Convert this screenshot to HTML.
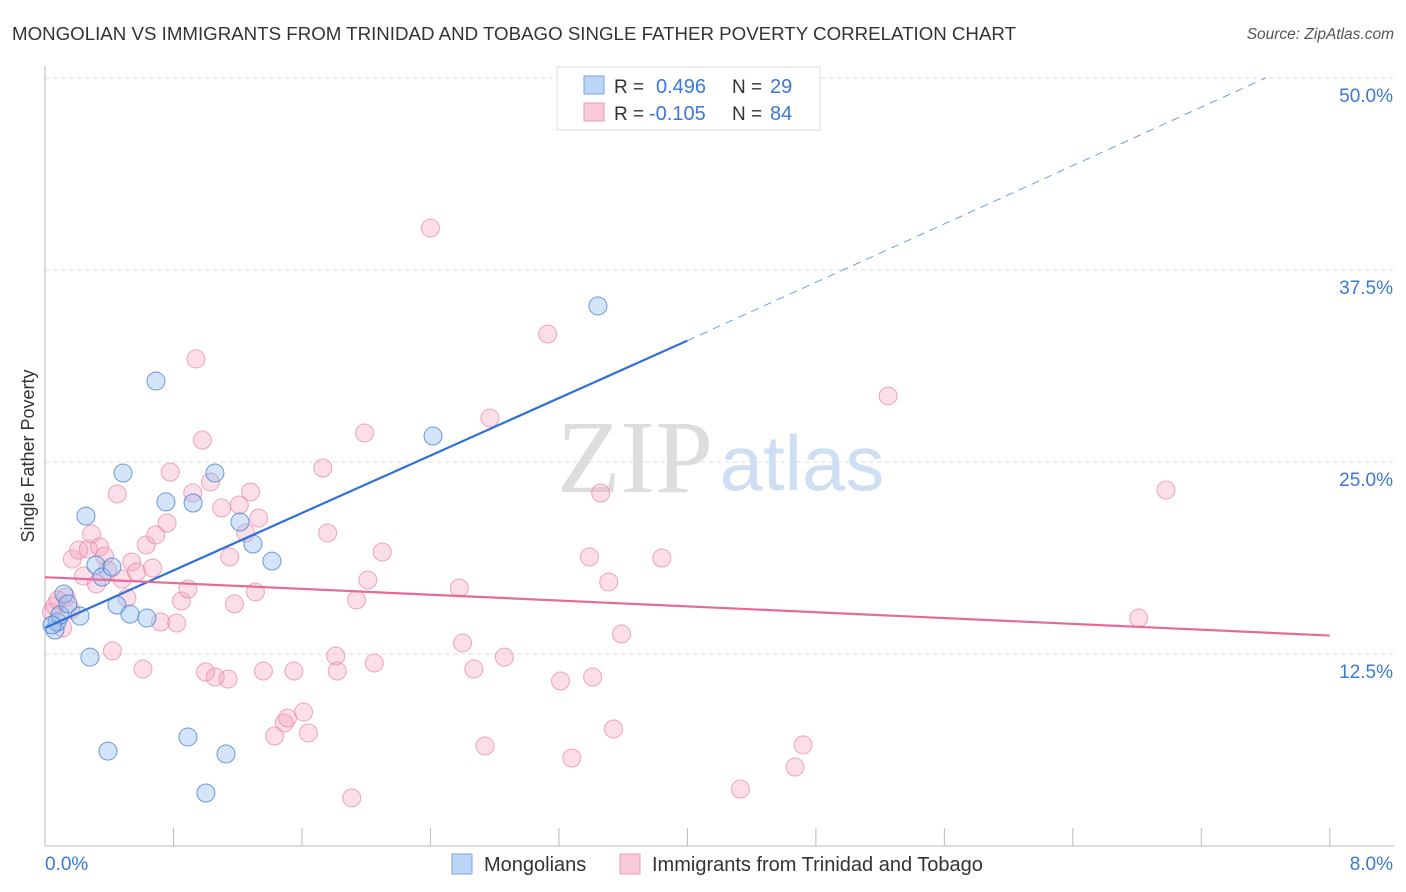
<!DOCTYPE html>
<html><head><meta charset="utf-8"><style>
body{margin:0;background:#fff;font-family:"Liberation Sans",sans-serif;}
svg{display:block}
</style></head><body>
<svg id="chart" width="1406" height="892">
<text x="12" y="40" font-size="18.5" fill="#333" textLength="1004" lengthAdjust="spacingAndGlyphs">MONGOLIAN VS IMMIGRANTS FROM TRINIDAD AND TOBAGO SINGLE FATHER POVERTY CORRELATION CHART</text>
<text x="1394" y="39" font-size="15.5" fill="#555" font-style="italic" text-anchor="end">Source: ZipAtlas.com</text>
<text transform="translate(34,456) rotate(-90)" font-size="18" fill="#333" text-anchor="middle">Single Father Poverty</text>
<g><text x="635" y="492" font-size="104" fill="#ddd" text-anchor="middle" font-family="Liberation Serif,serif">ZIP</text><text x="802" y="490" font-size="78" fill="#cfdff3" text-anchor="middle">atlas</text></g>
<g id="grid"></g><g id="axes"></g><g id="pts"></g><g id="lines"></g>
<g>
<rect x="557" y="67" width="263" height="63" fill="#fff" stroke="#ddd"/>
<rect x="584" y="76" width="20" height="18" fill="#bcd4f5" stroke="#7aa6e3"/>
<text x="614" y="93" font-size="19" fill="#333">R = </text><text x="656" y="93" font-size="20" fill="#3a78d8">0.496</text>
<text x="732" y="93" font-size="19" fill="#333">N = </text><text x="770" y="93" font-size="20" fill="#3a78d8">29</text>
<rect x="584" y="103" width="20" height="18" fill="#f9cbd8" stroke="#ee9ab4"/>
<text x="614" y="120" font-size="19" fill="#333">R = </text><text x="649" y="120" font-size="20" fill="#3a78d8">-0.105</text>
<text x="732" y="120" font-size="19" fill="#333">N = </text><text x="770" y="120" font-size="20" fill="#3a78d8">84</text>
</g>
<g>
<rect x="452" y="854" width="20" height="20" fill="#bcd4f5" stroke="#7aa6e3"/>
<text x="484" y="871" font-size="20" fill="#333">Mongolians</text>
<rect x="620" y="854" width="20" height="20" fill="#f9cbd8" stroke="#ee9ab4"/>
<text x="652" y="871" font-size="20" fill="#333">Immigrants from Trinidad and Tobago</text>
</g>
</svg>
<script>
const xTicks=[0,0.8,1.6,2.4,3.2,4.0,4.8,5.6,6.4,7.2,8.0];
const yTicks=[12.5,25.0,37.5,50.0];
const blueX=[0.062,0.075,0.093,0.118,0.143,0.218,0.255,0.280,0.317,0.355,0.392,0.417,0.448,0.486,0.529,0.635,0.691,0.753,0.890,0.922,1.002,1.058,1.127,1.214,1.295,1.413,2.416,3.443,0.044];
const blueY=[14.06,14.58,15.04,16.41,15.76,14.97,21.48,12.30,18.29,17.51,6.18,18.16,15.69,24.28,15.10,14.84,30.27,22.40,7.10,22.33,3.45,24.28,5.99,21.09,19.66,18.55,26.69,35.16,14.39];
const pinkX=[0.04,0.06,0.08,0.11,0.13,0.16,0.17,0.21,0.24,0.27,0.29,0.32,0.34,0.37,0.39,0.42,0.45,0.48,0.51,0.54,0.57,0.61,0.63,0.67,0.69,0.72,0.76,0.78,0.82,0.85,0.89,0.92,0.94,0.98,1.0,1.03,1.06,1.10,1.14,1.15,1.18,1.21,1.25,1.28,1.31,1.33,1.36,1.43,1.49,1.51,1.55,1.61,1.64,1.73,1.76,1.81,1.82,1.91,1.94,1.99,2.01,2.05,2.10,2.40,2.58,2.60,2.67,2.74,2.77,2.86,3.13,3.21,3.28,3.39,3.41,3.46,3.51,3.54,3.59,3.84,4.33,4.67,4.72,5.25,6.81,6.98];
const pinkY=[15.23,15.63,16.02,14.19,16.21,15.36,18.68,19.27,17.58,19.34,20.31,17.06,19.47,18.88,17.97,12.70,22.92,17.38,16.15,18.49,17.84,11.52,19.60,18.10,20.25,14.58,21.03,24.35,14.52,15.95,16.73,22.98,31.71,26.43,11.33,23.70,11.00,22.01,10.87,18.82,15.76,22.20,20.38,23.05,16.54,21.35,11.39,7.16,8.01,8.33,11.39,8.72,7.36,24.61,20.38,12.37,11.39,3.13,16.02,26.89,17.32,11.91,19.14,40.23,16.80,13.22,11.52,6.51,27.86,12.30,33.33,10.74,5.73,18.82,11.00,22.98,17.19,7.62,13.80,18.75,3.71,5.14,6.58,29.30,14.84,23.18];
const blueLine=[[0,14.2],[4.0,32.9],[7.6,50.0]];
const pinkLine=[[0,17.5],[8.0,13.7]];
const X=v=>45+v*160.6, Y=v=>846-v*15.36;
const NS='http://www.w3.org/2000/svg';
function mk(tag,attrs,parent){const e=document.createElementNS(NS,tag);for(const k in attrs)e.setAttribute(k,attrs[k]);document.getElementById(parent).appendChild(e);return e;}
yTicks.forEach(t=>{
 const l=mk('line',{x1:45,x2:1394,y1:Y(t),y2:Y(t),stroke:'#ddd','stroke-dasharray':'4,4'},'grid');
 
 
 const tx=mk('text',{x:1393,y:Y(t)+24,'font-size':19,fill:'#3a78d8','text-anchor':'end'},'grid');
 tx.textContent=t.toFixed(1)+'%';
 
 
});
mk('line',{x1:45,x2:45,y1:66,y2:846,stroke:'#bbb'},'axes');
mk('line',{x1:45,x2:1394,y1:846,y2:846,stroke:'#bbb'},'axes');
xTicks.forEach(t=>{
 const l=mk('line',{x1:X(t),x2:X(t),y1:828,y2:846,stroke:'#bbb'},'axes');
 
 
});
[[0,'start'],[8,'end']].forEach(([t,a])=>{
 const tx=mk('text',{x:t==0?45:1393,y:870,'font-size':19,fill:'#3a78d8','text-anchor':a},'axes');
 tx.textContent=t.toFixed(1)+'%';
 
 
});
pinkX.forEach((x,i)=>{
 const c=mk('circle',{cx:X(x),cy:Y(pinkY[i]),r:9,fill:'rgba(244,160,188,0.35)',stroke:'rgba(232,130,165,0.7)','stroke-width':1},'pts');
 
 
});
blueX.forEach((x,i)=>{
 const c=mk('circle',{cx:X(x),cy:Y(blueY[i]),r:9,fill:'rgba(150,190,240,0.4)',stroke:'rgba(70,130,210,0.8)','stroke-width':1},'pts');
 
 
});
let b=mk('line',{x1:X(blueLine[0][0]),y1:Y(blueLine[0][1]),x2:X(blueLine[1][0]),y2:Y(blueLine[1][1]),stroke:'#2f6fd6','stroke-width':2.2},'lines');


b=mk('line',{x1:X(blueLine[1][0]),y1:Y(blueLine[1][1]),x2:X(blueLine[2][0]),y2:Y(blueLine[2][1]),stroke:'#6f9ee0','stroke-width':1,'stroke-dasharray':'8,6'},'lines');


b=mk('line',{x1:X(pinkLine[0][0]),y1:Y(pinkLine[0][1]),x2:X(pinkLine[1][0]),y2:Y(pinkLine[1][1]),stroke:'#e8689a','stroke-width':2.2},'lines');


</script>
</body></html>
